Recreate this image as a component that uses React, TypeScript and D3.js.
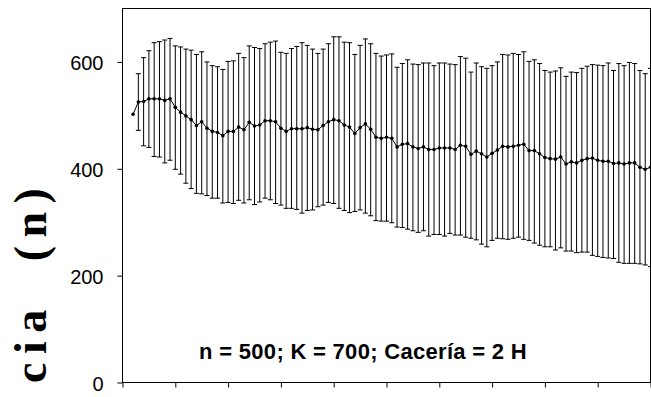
import React, { useRef, useEffect } from "react"
import * as d3 from "d3"

// mean abundance per step (first step has no spread)
const mean = [
  502, 525, 526, 531, 531, 531, 528, 531, 515, 506, 499, 492, 481, 488, 476, 470,
  468, 462, 470, 470, 478, 473, 487, 480, 482, 490, 490, 488, 476, 470, 475, 475,
  475, 477, 474, 473, 481, 488, 492, 490, 482, 478, 466, 477, 484, 474, 459,
  457, 459, 457, 441, 446, 447, 441, 438, 441, 436, 436, 439, 439, 439, 436, 444,
  442, 427, 433, 428, 422, 429, 435, 442, 441, 442, 444, 446, 434, 434, 428, 421,
  419, 418, 422, 409, 413, 411, 416, 419, 420, 416, 414, 414, 410, 411, 409, 411,
  411, 403, 399, 403
]
const upper = [
  502, 578, 608, 621, 636, 638, 641, 644, 630, 628, 624, 622, 614, 619, 600, 593,
  591, 586, 601, 602, 616, 608, 630, 627, 625, 634, 637, 639, 618, 616, 625, 629,
  636, 631, 624, 616, 624, 634, 647, 647, 637, 636, 614, 631, 643, 634, 616,
  611, 613, 615, 590, 597, 604, 596, 595, 598, 598, 593, 598, 598, 596, 595, 610,
  607, 581, 598, 591, 588, 593, 600, 614, 613, 616, 614, 619, 601, 604, 597, 584,
  581, 583, 589, 573, 581, 580, 588, 592, 595, 594, 593, 598, 584, 597, 593, 599,
  597, 584, 578, 588
]
const lower = [
  502, 472, 443, 440, 423, 422, 411, 416, 399, 390, 373, 363, 354, 353, 350, 345,
  345, 336, 337, 335, 341, 336, 342, 333, 338, 345, 342, 335, 332, 326, 326, 324,
  317, 322, 323, 329, 332, 337, 335, 326, 322, 318, 320, 323, 317, 312, 303,
  302, 302, 299, 291, 290, 287, 284, 281, 284, 274, 277, 277, 274, 279, 276, 276,
  272, 270, 267, 259, 254, 266, 270, 269, 268, 270, 272, 268, 266, 261, 257, 254,
  254, 248, 252, 246, 246, 243, 244, 244, 238, 236, 234, 233, 232, 225, 223, 223,
  223, 222, 220, 217
]
const yTicks = [0, 200, 400, 600]
const xTicks = [0, 10, 20, 30, 40, 50, 60, 70, 80, 90, 100]
const note = "n = 500; K = 700; Cacería = 2 H"
const yLabel = "cia  (n)"

const App = () => {
  const d3Container = useRef(null)
  const width = 651
  const height = 397

  useEffect(() => {
    if (!d3Container.current) return
    const svg = d3.select(d3Container.current)
    svg.selectAll("*").remove()

    const steps = mean.map((d, i) => i + 2)
    const x = d3.scaleLinear().domain([0, 100]).range([122.5, 650.5])
    const y = d3.scaleLinear().domain([0, 700]).range([382.5, 8.5])

    // plot frame
    svg
      .append("rect")
      .attr("x", x(0))
      .attr("y", y(700))
      .attr("width", x(100) - x(0))
      .attr("height", y(0) - y(700))
      .attr("fill", "none")
      .attr("stroke", "#000")

    const yAxis = svg
      .append("g")
      .attr("transform", `translate(${x(0)},0)`)
      .style("color", "#000")
      .call(d3.axisLeft(y).tickValues(yTicks).tickSize(5).tickPadding(14))
    yAxis.select(".domain").remove()
    yAxis
      .selectAll("text")
      .attr("font-family", "'Liberation Sans', Arial, sans-serif")
      .attr("font-size", 20)
      .attr("dy", "0.4em")

    const xAxis = svg
      .append("g")
      .attr("transform", `translate(0,${y(0)})`)
      .style("color", "#000")
      .call(d3.axisBottom(x).tickValues(xTicks).tickSize(5).tickFormat(() => ""))
    xAxis.select(".domain").remove()

    // error bars
    const bars = svg
      .append("g")
      .attr("stroke", "#000")
      .attr("stroke-width", 1)
      .selectAll("g")
      .data(steps.filter((s, i) => upper[i] !== lower[i]))
      .enter()
      .append("g")
    const idx = s => s - 2
    bars
      .append("line")
      .attr("x1", s => x(s))
      .attr("x2", s => x(s))
      .attr("y1", s => y(lower[idx(s)]))
      .attr("y2", s => y(upper[idx(s)]))
    bars
      .append("line")
      .attr("x1", s => x(s) - 2.5)
      .attr("x2", s => x(s) + 2.5)
      .attr("y1", s => y(upper[idx(s)]))
      .attr("y2", s => y(upper[idx(s)]))
    bars
      .append("line")
      .attr("x1", s => x(s) - 2.5)
      .attr("x2", s => x(s) + 2.5)
      .attr("y1", s => y(lower[idx(s)]))
      .attr("y2", s => y(lower[idx(s)]))

    // mean line + markers
    const line = d3
      .line()
      .x((d, i) => x(steps[i]))
      .y(d => y(d))
    svg
      .append("path")
      .attr("d", line(mean))
      .attr("fill", "none")
      .attr("stroke", "#000")
      .attr("stroke-width", 1)
    svg
      .append("g")
      .selectAll("circle")
      .data(mean)
      .enter()
      .append("circle")
      .attr("cx", (d, i) => x(steps[i]))
      .attr("cy", d => y(d))
      .attr("r", 1.8)
      .attr("fill", "#000")

    svg
      .append("text")
      .attr("x", 363)
      .attr("y", 359)
      .attr("text-anchor", "middle")
      .attr("font-family", "'Liberation Sans', Arial, sans-serif")
      .attr("font-weight", "bold")
      .attr("font-size", 22)
      .style("letter-spacing", "0.3px")
      .text(note)

    svg
      .append("text")
      .attr("transform", "translate(46,383) rotate(-90)")
      .attr("text-anchor", "start")
      .attr("font-family", "'Liberation Serif', 'Times New Roman', serif")
      .attr("font-weight", "bold")
      .attr("font-size", 46)
      .style("letter-spacing", "8.5px")
      .style("white-space", "pre")
      .text(yLabel)
  }, [d3Container])

  return (
    <svg
      ref={d3Container}
      width={width}
      height={height}
      style={{ position: "absolute", left: 0, top: 0, background: "#fff" }}
    />
  )
}

export default App
